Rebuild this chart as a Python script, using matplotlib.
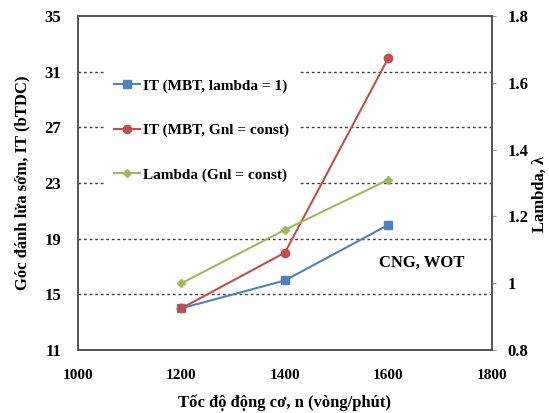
import matplotlib
matplotlib.use("Agg")
import matplotlib.pyplot as plt

plt.rcParams['font.family'] = ['Liberation Serif', 'DejaVu Serif']
plt.rcParams['font.weight'] = 'bold'

speed = [1200, 1400, 1600]
it_lambda1 = [14, 16, 20]
it_gnl = [14, 18, 32]
lambda_gnl = [1.0, 1.16, 1.31]

labels = ['IT (MBT, lambda = 1)', 'IT (MBT, Gnl = const)', 'Lambda (Gnl = const)']
colors = ['#4F81BD', '#C0504D', '#9BBB59']

fig = plt.figure(figsize=(5.49, 4.13), dpi=100)
ax = fig.add_axes([0.142, 0.1525, 0.754, 0.8085])
ax2 = ax.twinx()

l1, = ax.plot(speed, it_lambda1, color=colors[0], marker='s', markersize=6, lw=1.5, label=labels[0])
l2, = ax.plot(speed, it_gnl, color=colors[1], marker='o', markersize=6, lw=1.5, label=labels[1])
l3, = ax2.plot(speed, lambda_gnl, color=colors[2], marker='D', markersize=4, lw=1.5, label=labels[2])

ax.set_xlim(1000, 1800)
ax.set_ylim(11, 35)
ax2.set_ylim(0.8, 1.8)
ax.set_xticks([1000, 1200, 1400, 1600, 1800])
ax.set_yticks([11, 15, 19, 23, 27, 31, 35])
ax2.set_yticks([0.8, 1.0, 1.2, 1.4, 1.6, 1.8])
ax2.set_yticklabels(['0.8', '1', '1.2', '1.4', '1.6', '1.8'])

for y in [15, 19, 23, 27, 31]:
    ax.axhline(y, color='#404040', lw=1, ls=(0, (2, 2)), zorder=0)

ax.tick_params(axis='x', length=0, pad=14, labelsize=11)
ax.tick_params(axis='y', length=0, pad=12, labelsize=12)
ax2.tick_params(axis='y', length=3, color='#999999', pad=8, labelsize=12)

for a in (ax, ax2):
    for s in a.spines.values():
        s.set_color('#555555')
        s.set_linewidth(1.2)

ax.set_xlabel('Tốc độ động cơ, n (vòng/phút)', fontsize=12, fontweight='bold', labelpad=9)
ax.set_ylabel('Góc đánh lửa sớm, IT (bTDC)', fontsize=12, fontweight='bold', labelpad=10)
fig.text(0.984, 0.53, 'Lambda, λ', rotation=90, ha='center', va='center', fontsize=12, fontweight='bold')

leg = ax2.legend(handles=[l1, l2, l3], loc='upper left', bbox_to_anchor=(0.046, 0.862),
                 frameon=True, fancybox=False, edgecolor='none', facecolor='white', framealpha=1,
                 fontsize=11, handlelength=1.7, handletextpad=0.2, labelspacing=2.0,
                 borderpad=0.6)
for t in leg.get_texts():
    t.set_fontweight('bold')

ax2.text(1665, 1.06, 'CNG, WOT', ha='center', va='center', fontsize=12, fontweight='bold')

fig.savefig('out.png', dpi=100)
